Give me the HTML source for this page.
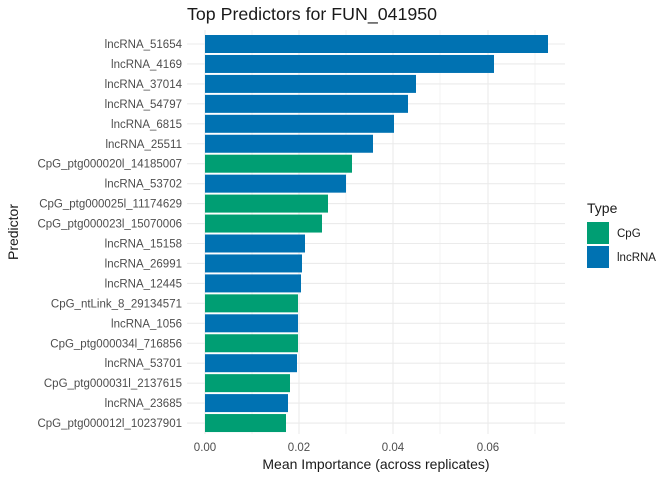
<!DOCTYPE html>
<html><head><style>body{margin:0;background:#fff}svg{display:block}</style></head><body>
<svg width="672" height="480" xmlns="http://www.w3.org/2000/svg" font-family="Liberation Sans, sans-serif">
<rect width="672" height="480" fill="#fff"/>
<g stroke="#ebebeb" stroke-width="0.6">
<line x1="252" y1="30" x2="252" y2="434"/><line x1="346" y1="30" x2="346" y2="434"/><line x1="440" y1="30" x2="440" y2="434"/><line x1="535" y1="30" x2="535" y2="434"/>
</g>
<g stroke="#ebebeb" stroke-width="1.1" id="g">
<line x1="205" y1="30" x2="205" y2="434"/><line x1="299" y1="30" x2="299" y2="434"/><line x1="393" y1="30" x2="393" y2="434"/><line x1="488" y1="30" x2="488" y2="434"/>
</g>
<g id="bars"></g>
<text x="187" y="20" font-size="17.8" fill="#1a1a1a">Top Predictors for FUN_041950</text>
<g font-size="11.5" fill="#4d4d4d" text-anchor="middle">
<text x="205" y="451">0.00</text><text x="299" y="451">0.02</text><text x="393" y="451">0.04</text><text x="488" y="451">0.06</text>
</g>
<text x="376" y="469" font-size="14" text-anchor="middle" fill="#1a1a1a">Mean Importance (across replicates)</text>
<text x="18" y="232" font-size="14" text-anchor="middle" fill="#1a1a1a" transform="rotate(-90 18 232)">Predictor</text>
<text x="587" y="213" font-size="14" fill="#1a1a1a">Type</text>
<rect x="587" y="222" width="22" height="22" fill="#009E73"/>
<rect x="587" y="246" width="22" height="22" fill="#0072B2"/>
<text x="617" y="237" font-size="11.5" fill="#1a1a1a">CpG</text>
<text x="617" y="261" font-size="11.5" fill="#1a1a1a">lncRNA</text>
<g id="labels" font-size="11.5" fill="#4d4d4d" text-anchor="end"></g>
<script>
var d=[["lncRNA_51654",548,0],["lncRNA_4169",494,0],["lncRNA_37014",416,0],["lncRNA_54797",408,0],["lncRNA_6815",394,0],["lncRNA_25511",373,0],["CpG_ptg000020l_14185007",352,1],["lncRNA_53702",346,0],["CpG_ptg000025l_11174629",328,1],["CpG_ptg000023l_15070006",322,1],["lncRNA_15158",305,0],["lncRNA_26991",302,0],["lncRNA_12445",301,0],["CpG_ntLink_8_29134571",298,1],["lncRNA_1056",298,0],["CpG_ptg000034l_716856",298,1],["lncRNA_53701",297,0],["CpG_ptg000031l_2137615",290,1],["lncRNA_23685",288,0],["CpG_ptg000012l_10237901",286,1]];
var ns="http://www.w3.org/2000/svg",B=document.getElementById("bars"),L=document.getElementById("labels"),G=document.getElementById("g");
d.forEach(function(r,i){var c=44+i*19.95;
var l=document.createElementNS(ns,"line");l.setAttribute("x1",187);l.setAttribute("x2",565);l.setAttribute("y1",c);l.setAttribute("y2",c);G.appendChild(l);
var b=document.createElementNS(ns,"rect");b.setAttribute("x",205);b.setAttribute("y",c-9);b.setAttribute("width",r[1]-205);b.setAttribute("height",18);b.setAttribute("fill",r[2]?"#009E73":"#0072B2");B.appendChild(b);
var t=document.createElementNS(ns,"text");t.setAttribute("x",182);t.setAttribute("y",c+4);t.textContent=r[0];L.appendChild(t);});
</script>
</svg>
</body></html>
